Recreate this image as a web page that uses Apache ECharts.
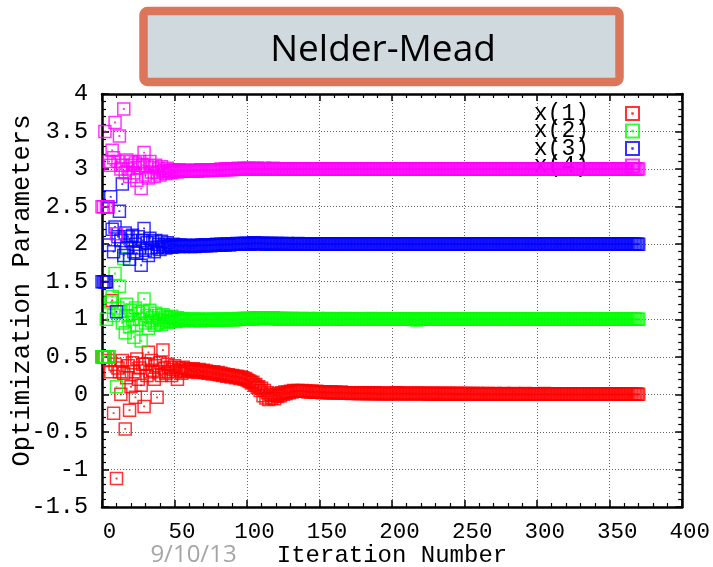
<!DOCTYPE html>
<html>
<head>
<meta charset="utf-8">
<script src="https://cdn.jsdelivr.net/npm/echarts@6/dist/echarts.min.js"></script>
<style>
  html, body { margin: 0; padding: 0; background: #ffffff; }
  #chart { width: 713px; height: 567px; }
</style>
</head>
<body>
<div id="chart"></div>
<script>
// Parameter history of a Nelder-Mead run: one value per iteration (index = iteration number)
const seriesNames = ['x(1)', 'x(2)', 'x(3)', 'x(4)'];
const seriesColors = ['#ff0000', '#00ff00', '#0000ff', '#ff00ff'];

const x1Values = [
  0.50,0.50,0.50,1.50,0.50,0.45,0.30,1.25,-0.25,0.40,
  -1.12,0.35,0.30,0.00,0.45,0.28,-0.46,0.22,0.38,-0.21,
  0.10,0.42,0.30,-0.04,0.47,0.20,0.35,0.12,0.40,-0.16,
  0.40,0.25,0.56,0.30,0.45,0.32,0.20,0.38,-0.04,0.30,
  0.42,0.25,0.59,0.35,0.28,0.40,0.30,0.36,0.25,0.33,
  0.38,0.30,0.20,0.35,0.32,0.28,0.36,0.30,0.34,0.31,
  0.33,0.33,0.31,0.34,0.30,0.32,0.29,0.33,0.31,0.30,
  0.32,0.29,0.31,0.28,0.30,0.29,0.27,0.30,0.28,0.27,
  0.29,0.26,0.28,0.25,0.27,0.26,0.24,0.26,0.25,0.23,
  0.25,0.24,0.22,0.24,0.23,0.21,0.23,0.22,0.20,0.21,
  0.19,0.18,0.17,0.15,0.16,0.12,0.13,0.09,0.10,0.05,
  0.08,-0.02,0.05,-0.05,0.02,-0.07,0.00,-0.05,-0.02,-0.06,
  -0.01,-0.03,0.01,-0.02,0.02,0.00,0.03,0.01,0.03,0.02,
  0.04,0.03,0.05,0.04,0.04,0.05,0.04,0.04,0.05,0.04,
  0.04,0.04,0.03,0.04,0.03,0.04,0.03,0.03,0.04,0.03,
  0.03,0.03,0.02,0.03,0.03,0.02,0.03,0.02,0.03,0.02,
  0.02,0.03,0.02,0.02,0.02,0.03,0.02,0.02,0.02,0.02,
  0.02,0.02,0.01,0.02,0.02,0.02,0.01,0.02,0.01,0.02,
  0.01,0.02,0.01,0.01,0.02,0.01,0.01,0.01,0.02,0.01,
  0.01,0.01,0.01,0.01,0.01,0.01,0.01,0.01,0.01,0.01,
  0.01,0.01,0.01,0.02,0.01,0.01,0.01,0.01,0.01,0.01,
  0.01,0.01,0.01,0.01,0.01,0.01,0.01,0.01,0.01,0.01,
  0.01,0.01,0.01,0.01,0.01,0.01,0.00,0.01,0.01,0.01,
  0.01,0.00,0.01,0.01,0.01,0.00,0.01,0.01,0.00,0.01,
  0.01,0.00,0.01,0.00,0.01,0.01,0.00,0.01,0.00,0.01,
  0.00,0.01,0.00,0.01,0.00,0.00,0.01,0.00,0.00,0.01,
  0.00,0.00,0.01,0.00,0.00,0.00,0.01,0.00,0.00,0.00,
  0.00,0.01,0.00,0.00,0.00,0.00,0.00,0.01,0.00,0.00,
  0.00,0.00,0.00,0.00,0.01,0.00,0.00,0.00,0.00,0.00,
  0.00,0.00,0.01,0.00,0.00,0.00,0.00,0.00,0.00,0.00,
  0.00,0.00,0.00,0.00,0.00,0.01,0.00,0.00,0.00,0.00,
  0.00,0.00,0.00,0.00,0.00,0.00,0.00,0.00,0.00,0.00,
  0.00,0.00,0.00,0.00,0.00,0.00,0.00,0.00,0.00,0.00,
  0.00,0.00,0.00,0.00,0.00,0.00,0.00,0.00,0.00,0.00,
  0.00,0.00,0.00,0.00,0.00,0.00,0.00,0.00,0.00,0.00,
  0.00,0.00,0.00,0.00,0.00,0.00,0.00,0.00,0.00,0.00,
  0.00,0.00,0.00,0.00,0.00,0.00,0.00,0.00,0.00,0.00,
  0.00
];

const x2Values = [
  0.50,0.50,0.50,1.00,0.50,0.50,1.23,1.30,1.05,1.61,
  0.10,1.15,1.44,1.10,0.95,1.81,0.82,1.20,1.05,0.90,
  1.12,1.00,0.76,1.15,0.92,1.08,1.00,0.71,1.10,1.27,
  0.95,1.05,0.88,1.12,0.98,1.02,0.92,1.08,0.95,1.05,
  1.00,0.93,1.06,0.98,1.03,0.96,1.02,0.97,1.04,0.99,
  1.01,0.97,1.02,0.98,1.00,0.99,1.01,0.98,1.00,0.99,
  1.00,0.99,1.00,0.98,1.00,0.99,1.00,0.99,0.98,1.00,
  0.99,1.00,0.99,0.99,1.00,0.99,0.99,1.00,0.99,1.00,
  0.99,1.00,1.00,0.99,1.00,0.99,1.00,1.00,0.99,1.00,
  1.00,1.00,0.99,1.00,1.01,1.00,1.00,1.01,1.00,1.01,
  1.01,1.00,1.01,1.01,1.00,1.02,1.01,1.01,1.02,1.01,
  1.01,1.02,1.01,1.01,1.02,1.01,1.01,1.01,1.02,1.01,
  1.01,1.01,1.00,1.01,1.01,1.00,1.01,1.00,1.01,1.00,
  1.00,1.01,1.00,1.00,1.01,1.00,1.00,1.00,1.01,1.00,
  1.00,1.00,1.00,1.01,1.00,1.00,1.00,1.00,1.00,1.01,
  1.00,1.00,1.00,1.00,1.00,1.00,1.01,1.00,1.00,1.00,
  1.00,1.00,1.00,1.00,1.00,1.00,1.00,1.00,1.01,1.00,
  1.00,1.00,1.00,1.00,1.00,1.00,1.00,1.00,1.00,1.00,
  1.00,1.00,1.00,1.00,1.00,1.01,1.00,1.00,1.00,1.00,
  1.00,1.00,1.00,1.00,1.00,1.00,1.00,1.00,1.00,1.00,
  1.00,1.00,1.00,1.00,1.00,1.00,1.00,1.00,1.00,1.00,
  1.00,1.00,1.00,1.00,1.00,1.00,1.00,0.99,1.00,1.00,
  1.00,1.00,1.00,1.00,1.00,1.00,1.00,1.00,1.00,1.00,
  1.00,1.00,1.00,1.00,1.00,1.00,1.00,1.00,1.00,1.00,
  1.00,1.00,1.00,1.00,1.00,1.00,1.00,1.00,1.00,1.00,
  1.00,1.00,1.00,1.00,1.00,1.00,1.00,1.00,1.00,1.00,
  1.00,1.00,1.00,1.00,1.00,1.00,1.00,1.00,1.00,1.00,
  1.00,1.00,1.00,1.00,1.00,1.00,1.00,1.00,1.00,1.00,
  1.00,1.00,1.00,1.00,1.00,1.00,1.00,1.00,1.00,1.00,
  1.00,1.00,1.00,1.00,1.00,1.00,1.00,1.00,1.00,1.00,
  1.00,1.00,1.00,1.00,1.00,1.00,1.00,1.00,1.00,1.00,
  1.00,1.00,1.00,1.00,1.00,1.00,1.00,1.00,1.00,1.00,
  1.00,1.00,1.00,1.00,1.00,1.00,1.00,1.00,1.00,1.00,
  1.00,1.00,1.00,1.00,1.00,1.00,1.00,1.00,1.00,1.00,
  1.00,1.00,1.00,1.00,1.00,1.00,1.00,1.00,1.00,1.00,
  1.00,1.00,1.00,1.00,1.00,1.00,1.00,1.00,1.00,1.00,
  1.00,1.00,1.00,1.00,1.00,1.00,1.00,1.00,1.00,1.00,
  1.00
];

const x3Values = [
  1.50,1.50,1.50,1.50,2.50,1.99,2.63,2.20,1.90,2.23,
  1.10,2.10,2.44,2.05,2.80,1.85,2.15,1.95,2.10,1.80,
  2.05,2.12,1.90,2.00,1.88,2.10,1.95,1.72,2.05,2.21,
  1.92,2.02,1.85,2.08,1.95,2.03,1.90,2.05,1.96,2.00,
  1.93,2.04,1.97,1.99,1.95,2.02,1.97,1.99,1.96,2.00,
  1.97,1.99,1.98,1.97,1.99,1.98,1.97,1.99,1.98,1.98,
  1.98,1.97,1.98,1.98,1.97,1.98,1.99,1.98,1.98,1.99,
  1.98,1.99,1.98,1.99,1.99,1.98,1.99,1.99,1.99,2.00,
  1.99,1.99,2.00,1.99,2.00,1.99,2.00,2.00,1.99,2.00,
  2.00,2.00,2.00,2.01,2.00,2.00,2.01,2.00,2.01,2.01,
  2.01,2.01,2.00,2.01,2.01,2.02,2.01,2.01,2.01,2.01,
  2.01,2.01,2.01,2.00,2.01,2.01,2.00,2.01,2.00,2.01,
  2.00,2.01,2.00,2.00,2.01,2.00,2.00,2.00,2.01,2.00,
  2.00,2.00,2.00,2.00,2.00,2.01,2.00,2.00,2.00,2.00,
  2.00,2.00,2.00,2.00,2.00,2.00,2.00,2.00,2.00,2.00,
  2.00,2.00,2.00,2.00,2.00,2.00,2.00,2.00,2.00,2.00,
  2.00,2.00,2.00,2.00,2.00,2.00,2.00,2.00,2.00,2.00,
  2.00,2.00,2.00,2.00,2.00,2.00,2.00,2.00,2.00,2.00,
  2.00,2.00,2.00,2.00,2.00,2.00,2.00,2.00,2.00,2.00,
  2.00,2.00,2.00,2.00,2.00,2.00,2.00,2.00,2.00,2.00,
  2.00,2.00,2.00,2.00,2.00,2.00,2.00,2.00,2.00,2.00,
  2.00,2.00,2.00,2.00,2.00,2.00,2.00,2.00,2.00,2.00,
  2.00,2.00,2.00,2.00,2.00,2.00,2.00,2.00,2.00,2.00,
  2.00,2.00,2.00,2.00,2.00,2.00,2.00,2.00,2.00,2.00,
  2.00,2.00,2.00,2.00,2.00,2.00,2.00,2.00,2.00,2.00,
  2.00,2.00,2.00,2.00,2.00,2.00,2.00,2.00,2.00,2.00,
  2.00,2.00,2.00,2.00,2.00,2.00,2.00,2.00,2.00,2.00,
  2.00,2.00,2.00,2.00,2.00,2.00,2.00,2.00,2.00,2.00,
  2.00,2.00,2.00,2.00,2.00,2.00,2.00,2.00,2.00,2.00,
  2.00,2.00,2.00,2.00,2.00,2.00,2.00,2.00,2.00,2.00,
  2.00,2.00,2.00,2.00,2.00,2.00,2.00,2.00,2.00,2.00,
  2.00,2.00,2.00,2.00,2.00,2.00,2.00,2.00,2.00,2.00,
  2.00,2.00,2.00,2.00,2.00,2.00,2.00,2.00,2.00,2.00,
  2.00,2.00,2.00,2.00,2.00,2.00,2.00,2.00,2.00,2.00,
  2.00,2.00,2.00,2.00,2.00,2.00,2.00,2.00,2.00,2.00,
  2.00,2.00,2.00,2.00,2.00,2.00,2.00,2.00,2.00,2.00,
  2.00,2.00,2.00,2.00,2.00,2.00,2.00,2.00,2.00,2.00,
  2.00
];

const x4Values = [
  2.50,2.50,3.50,2.50,2.50,3.10,3.05,3.25,3.15,3.62,
  2.14,3.10,3.44,3.00,3.05,3.80,2.95,3.12,3.00,2.90,
  3.10,3.05,2.95,3.08,2.85,3.02,3.10,2.74,3.05,3.22,
  2.92,3.04,2.88,3.10,2.96,3.02,2.90,3.05,2.95,3.00,
  2.92,3.03,2.97,2.98,2.94,3.01,2.96,2.98,2.95,2.99,
  2.97,2.98,2.96,2.99,2.97,2.98,2.97,2.98,2.98,2.97,
  2.97,2.98,2.98,2.97,2.98,2.98,2.97,2.98,2.99,2.98,
  2.98,2.98,2.99,2.98,2.99,2.99,2.98,2.99,2.99,2.99,
  2.99,2.99,3.00,2.99,2.99,3.00,2.99,3.00,3.00,2.99,
  3.00,3.00,3.00,3.00,3.01,3.00,3.00,3.00,3.01,3.00,
  3.00,3.01,3.00,3.00,3.01,3.00,3.00,3.01,3.00,3.00,
  3.00,3.00,3.01,3.00,3.00,3.00,3.00,3.00,3.01,3.00,
  3.00,3.00,3.00,3.00,3.00,3.00,3.00,3.00,3.00,3.00,
  3.00,3.00,3.00,3.00,3.00,3.00,3.00,3.00,3.00,3.00,
  3.00,3.00,3.00,3.00,3.00,3.00,3.00,3.00,3.00,3.00,
  3.00,3.00,3.00,3.00,3.00,3.00,3.00,3.00,3.00,3.00,
  3.00,3.00,3.00,3.00,3.00,3.00,3.00,3.00,3.00,3.00,
  3.00,3.00,3.00,3.00,3.00,3.00,3.00,3.00,3.00,3.00,
  3.00,3.00,3.00,3.00,3.00,3.00,3.00,3.00,3.00,3.00,
  3.00,3.00,3.00,3.00,3.00,3.00,3.00,3.00,3.00,3.00,
  3.00,3.00,3.00,3.00,3.00,3.00,3.00,3.00,3.00,3.00,
  3.00,3.00,3.00,3.00,3.00,3.00,3.00,3.00,3.00,3.00,
  3.00,3.00,3.00,3.00,3.00,3.00,3.00,3.00,3.00,3.00,
  3.00,3.00,3.00,3.00,3.00,3.00,3.00,3.00,3.00,3.00,
  3.00,3.00,3.00,3.00,3.00,3.00,3.00,3.00,3.00,3.00,
  3.00,3.00,3.00,3.00,3.00,3.00,3.00,3.00,3.00,3.00,
  3.00,3.00,3.00,3.00,3.00,3.00,3.00,3.00,3.00,3.00,
  3.00,3.00,3.00,3.00,3.00,3.00,3.00,3.00,3.00,3.00,
  3.00,3.00,3.00,3.00,3.00,3.00,3.00,3.00,3.00,3.00,
  3.00,3.00,3.00,3.00,3.00,3.00,3.00,3.00,3.00,3.00,
  3.00,3.00,3.00,3.00,3.00,3.00,3.00,3.00,3.00,3.00,
  3.00,3.00,3.00,3.00,3.00,3.00,3.00,3.00,3.00,3.00,
  3.00,3.00,3.00,3.00,3.00,3.00,3.00,3.00,3.00,3.00,
  3.00,3.00,3.00,3.00,3.00,3.00,3.00,3.00,3.00,3.00,
  3.00,3.00,3.00,3.00,3.00,3.00,3.00,3.00,3.00,3.00,
  3.00,3.00,3.00,3.00,3.00,3.00,3.00,3.00,3.00,3.00,
  3.00,3.00,3.00,3.00,3.00,3.00,3.00,3.00,3.00,3.00,
  3.00
];

const allValues = [x1Values, x2Values, x3Values, x4Values];

// Axis ranges
const xRange = { min: 0, max: 400, interval: 50 };
const yRange = { min: -1.5, max: 4, interval: 0.5 };

const monoFont = '"Liberation Mono", "DejaVu Sans Mono", monospace';
const sansFont = '"Open Sans", "Noto Sans", sans-serif';

// Hollow square with a small centre dot (gnuplot-style point)
const squareSymbol = 'path://M0,0H10V10H0Z M4.85,4.85H5.15V5.15H4.85Z';

const chart = echarts.init(document.getElementById('chart'), null, { renderer: 'canvas' });

const series = allValues.map((vals, k) => ({
  name: seriesNames[k],
  type: 'scatter',
  symbol: squareSymbol,
  symbolSize: 12,
  data: vals.map((v, i) => [i, v]),
  itemStyle: { color: 'transparent', borderColor: seriesColors[k], borderWidth: 1.5 },
  emphasis: { disabled: true },
  z: 5
}));

function axisBase(range, position, showLabels, labelOpts) {
  return {
    type: 'value',
    position: position,
    min: range.min,
    max: range.max,
    interval: range.interval,
    axisLine: { show: true, onZero: false, lineStyle: { color: '#000', width: 2.5 } },
    axisTick: { show: true, inside: true, length: 7, lineStyle: { color: '#000', width: 1.5 } },
    minorTick: { show: true, splitNumber: 5, length: 4, lineStyle: { color: '#000', width: 1.2 } },
    splitLine: { show: showLabels, lineStyle: { color: '#666', width: 1, type: [1, 2] } },
    minorSplitLine: { show: false },
    axisLabel: Object.assign({ show: showLabels, color: '#000', fontFamily: monoFont }, labelOpts || {})
  };
}

const option = {
  animation: false,
  backgroundColor: '#ffffff',
  grid: { left: 102, right: 29, top: 94, bottom: 60, containLabel: false },
  xAxis: [
    axisBase(xRange, 'bottom', true, { fontSize: 22.5, margin: 14, padding: [0, 0, 0, 15] }),
    axisBase(xRange, 'top', false)
  ],
  yAxis: [
    axisBase(yRange, 'left', true, { fontSize: 23.5, margin: 14 }),
    axisBase(yRange, 'right', false)
  ],
  legend: {
    data: seriesNames,
    orient: 'vertical',
    right: 73,
    top: 102,
    align: 'right',
    itemWidth: 13,
    itemHeight: 13,
    itemGap: -5.5,
    padding: 0,
    z: 1,
    selectedMode: false,
    textStyle: { fontFamily: monoFont, fontSize: 23, color: '#000', lineHeight: 18, padding: [0, 32, 0, 0] }
  },
  graphic: [
    {
      type: 'rect',
      shape: { x: 143.5, y: 11, width: 476, height: 71, r: 4 },
      style: { fill: '#cfd9de', stroke: '#dc765a', lineWidth: 8.5 },
      z: 10
    },
    {
      type: 'text',
      x: 383, y: 50,
      style: { text: 'Nelder-Mead', font: '37px ' + sansFont, fill: '#000', textAlign: 'center', textVerticalAlign: 'middle' },
      z: 11
    },
    {
      type: 'text',
      x: 193.5, y: 555,
      style: { text: '9/10/13', font: '24px ' + sansFont, fill: '#a6a6a6', textAlign: 'center', textVerticalAlign: 'middle' },
      z: 11
    },
    {
      type: 'text',
      x: 392, y: 556,
      style: { text: 'Iteration Number', font: '24px ' + monoFont, fill: '#000', textAlign: 'center', textVerticalAlign: 'middle' },
      z: 11
    },
    {
      type: 'text',
      x: 22, y: 290.5,
      rotation: Math.PI / 2,
      style: { text: 'Optimization Parameters', font: '25.5px ' + monoFont, fill: '#000', textAlign: 'center', textVerticalAlign: 'middle' },
      z: 11
    }
  ],
  series: series
};

chart.setOption(option);
</script>
</body>
</html>
